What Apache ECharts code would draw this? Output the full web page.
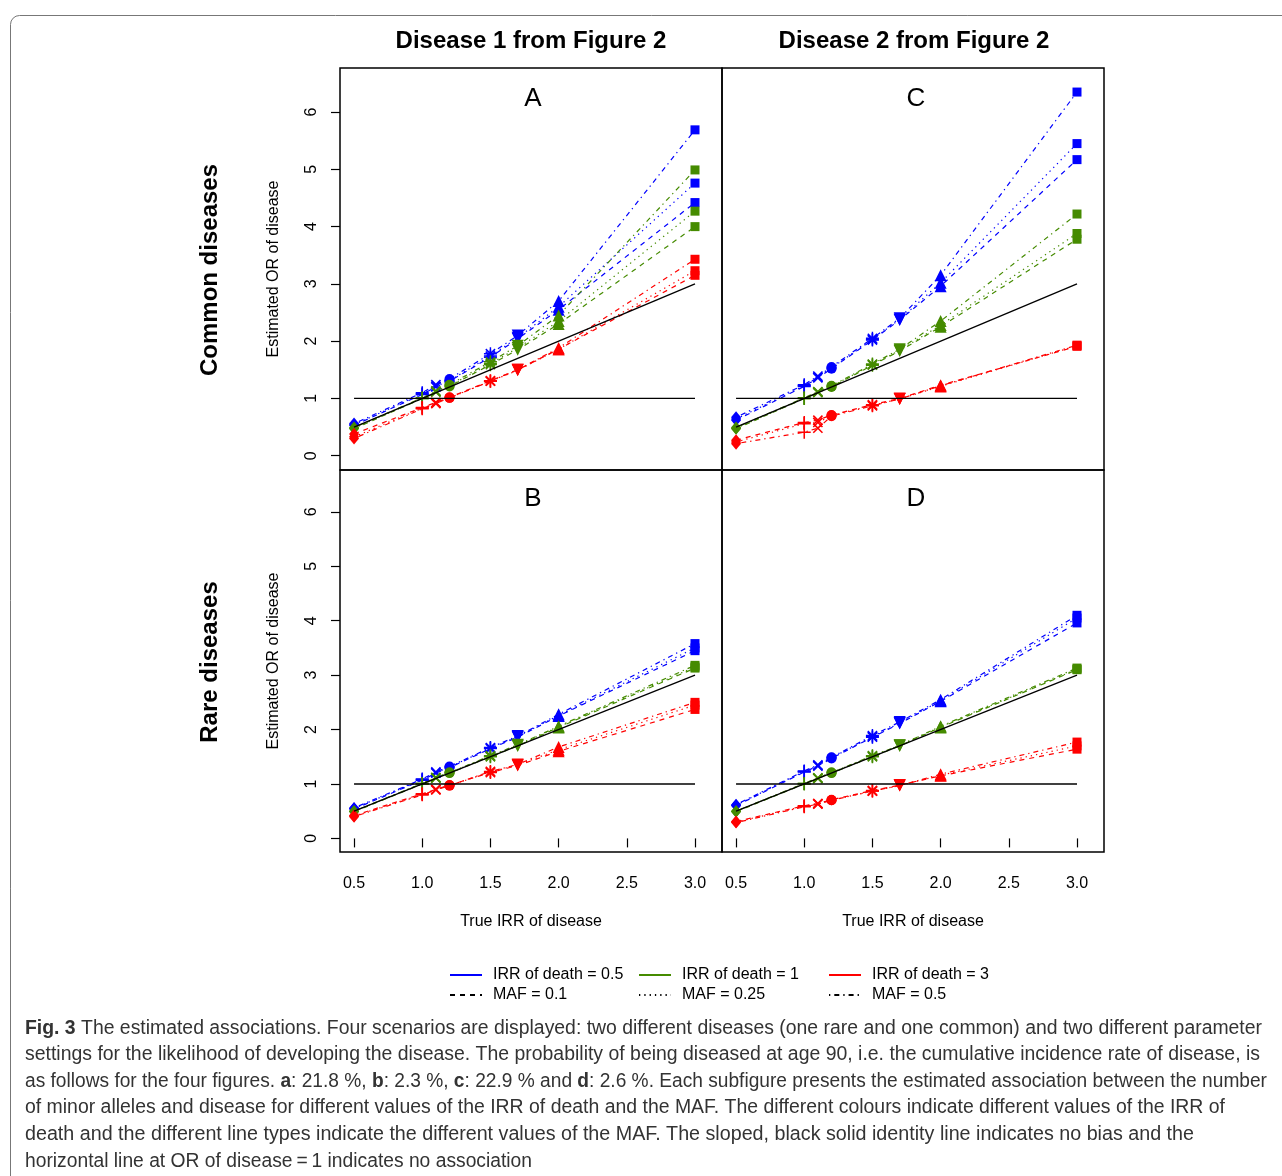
<!DOCTYPE html>
<html><head><meta charset="utf-8">
<script src="https://cdn.jsdelivr.net/npm/echarts@6/dist/echarts.min.js"></script>
<style>html,body{margin:0;padding:0;background:#fff}#c{width:1282px;height:1176px}</style>
</head><body><div id="c"></div>
<script>
// ---------- data ----------
const trueIRR = [0.5, 1.0, 1.1, 1.2, 1.5, 1.7, 2.0, 3.0];
const xTicks = [0.5, 1.0, 1.5, 2.0, 2.5, 3.0];
const yTicks = [0, 1, 2, 3, 4, 5, 6];
const irrDeathLabels = ['IRR of death = 0.5', 'IRR of death = 1', 'IRR of death = 3'];
const mafLabels = ['MAF = 0.1', 'MAF = 0.25', 'MAF = 0.5'];
const panelLetters = ['A', 'C', 'B', 'D'];
const columnTitles = ['Disease 1 from Figure 2', 'Disease 2 from Figure 2'];
const rowTitles = ['Common diseases', 'Rare diseases'];
const xAxisTitle = 'True IRR of disease';
const yAxisTitle = 'Estimated OR of disease';
const identityX = [0.5, 3.0];
const identityY = [0.5, 3.0];
const noAssocX = [0.5, 3.0];
const noAssocY = [1, 1];

// Panel A (common disease 1)
const A_d05_maf01  = [0.53, 1.07, 1.20, 1.30, 1.72, 2.04, 2.55, 4.42];
const A_d05_maf025 = [0.54, 1.08, 1.21, 1.31, 1.74, 2.06, 2.60, 4.76];
const A_d05_maf05  = [0.56, 1.10, 1.24, 1.34, 1.78, 2.10, 2.70, 5.69];
const A_d1_maf01   = [0.47, 1.00, 1.11, 1.21, 1.59, 1.85, 2.30, 4.00];
const A_d1_maf025  = [0.48, 1.00, 1.12, 1.22, 1.61, 1.88, 2.35, 4.27];
const A_d1_maf05   = [0.49, 1.01, 1.13, 1.24, 1.64, 1.92, 2.45, 4.99];
const A_d3_maf01   = [0.38, 0.84, 0.93, 1.02, 1.31, 1.50, 1.86, 3.15];
const A_d3_maf025  = [0.33, 0.83, 0.92, 1.01, 1.30, 1.49, 1.86, 3.23];
const A_d3_maf05   = [0.30, 0.82, 0.91, 1.01, 1.30, 1.50, 1.88, 3.43];
// Panel C (common disease 2)
const C_d05_maf01  = [0.62, 1.21, 1.36, 1.52, 2.02, 2.37, 2.96, 5.17];
const C_d05_maf025 = [0.64, 1.22, 1.37, 1.53, 2.03, 2.38, 3.02, 5.45];
const C_d05_maf05  = [0.67, 1.24, 1.39, 1.55, 2.05, 2.40, 3.15, 6.35];
const C_d1_maf01   = [0.47, 1.00, 1.10, 1.20, 1.58, 1.83, 2.25, 3.78];
const C_d1_maf025  = [0.48, 1.00, 1.11, 1.21, 1.59, 1.84, 2.28, 3.88];
const C_d1_maf05   = [0.49, 1.01, 1.12, 1.22, 1.60, 1.86, 2.35, 4.22];
const C_d3_maf01   = [0.27, 0.58, 0.62, 0.71, 0.89, 1.00, 1.23, 1.91];
const C_d3_maf025  = [0.24, 0.56, 0.58, 0.70, 0.88, 0.99, 1.21, 1.92];
const C_d3_maf05   = [0.21, 0.41, 0.48, 0.69, 0.87, 0.99, 1.22, 1.93];
// Panel B (rare disease 1)
const B_d05_maf01  = [0.54, 1.07, 1.20, 1.30, 1.65, 1.86, 2.25, 3.45];
const B_d05_maf025 = [0.55, 1.08, 1.21, 1.31, 1.66, 1.87, 2.26, 3.50];
const B_d05_maf05  = [0.56, 1.09, 1.22, 1.32, 1.67, 1.88, 2.28, 3.58];
const B_d1_maf01   = [0.49, 1.00, 1.11, 1.20, 1.50, 1.70, 2.04, 3.13];
const B_d1_maf025  = [0.50, 1.01, 1.11, 1.21, 1.51, 1.71, 2.05, 3.15];
const B_d1_maf05   = [0.50, 1.01, 1.12, 1.21, 1.52, 1.72, 2.06, 3.18];
const B_d3_maf01   = [0.42, 0.82, 0.90, 0.98, 1.21, 1.34, 1.60, 2.37];
const B_d3_maf025  = [0.41, 0.81, 0.90, 0.97, 1.22, 1.35, 1.63, 2.45];
const B_d3_maf05   = [0.40, 0.80, 0.89, 0.97, 1.23, 1.36, 1.68, 2.50];
// Panel D (rare disease 2)
const D_d05_maf01  = [0.60, 1.22, 1.33, 1.47, 1.86, 2.11, 2.52, 3.96];
const D_d05_maf025 = [0.61, 1.23, 1.34, 1.48, 1.87, 2.12, 2.53, 4.05];
const D_d05_maf05  = [0.62, 1.24, 1.35, 1.49, 1.89, 2.14, 2.55, 4.10];
const D_d1_maf01   = [0.49, 1.00, 1.10, 1.20, 1.50, 1.70, 2.04, 3.10];
const D_d1_maf025  = [0.50, 1.01, 1.11, 1.21, 1.51, 1.71, 2.05, 3.11];
const D_d1_maf05   = [0.50, 1.01, 1.11, 1.21, 1.52, 1.71, 2.06, 3.13];
const D_d3_maf01   = [0.31, 0.60, 0.64, 0.71, 0.88, 0.98, 1.15, 1.64];
const D_d3_maf025  = [0.30, 0.59, 0.64, 0.70, 0.87, 0.97, 1.16, 1.70];
const D_d3_maf05   = [0.29, 0.58, 0.63, 0.70, 0.87, 0.97, 1.18, 1.77];

const panelData = [
  [[A_d05_maf01, A_d05_maf025, A_d05_maf05], [A_d1_maf01, A_d1_maf025, A_d1_maf05], [A_d3_maf01, A_d3_maf025, A_d3_maf05]],
  [[C_d05_maf01, C_d05_maf025, C_d05_maf05], [C_d1_maf01, C_d1_maf025, C_d1_maf05], [C_d3_maf01, C_d3_maf025, C_d3_maf05]],
  [[B_d05_maf01, B_d05_maf025, B_d05_maf05], [B_d1_maf01, B_d1_maf025, B_d1_maf05], [B_d3_maf01, B_d3_maf025, B_d3_maf05]],
  [[D_d05_maf01, D_d05_maf025, D_d05_maf05], [D_d1_maf01, D_d1_maf025, D_d1_maf05], [D_d3_maf01, D_d3_maf025, D_d3_maf05]]
];

// ---------- style ----------
const FONT = "'Liberation Sans', Arial, Helvetica, sans-serif";
const CAPFONT = "'Liberation Sans', Arial, sans-serif";
const colors = ['#0000FF', '#458B00', '#FF0000'];
const dashes = [[5, 5], [1.3, 4], [1.3, 4, 5, 4]];
const plusPath = 'path://M-1.2,-10L1.2,-10L1.2,-1.2L10,-1.2L10,1.2L1.2,1.2L1.2,10L-1.2,10L-1.2,1.2L-10,1.2L-10,-1.2L-1.2,-1.2Z';
const starPath = 'path://M-1.1,-10L1.1,-10L1.1,10L-1.1,10Z M-10,-1.1L10,-1.1L10,1.1L-10,1.1Z M-7.9,-6.3L-6.3,-7.9L7.9,6.3L6.3,7.9Z M6.3,-7.9L7.9,-6.3L-6.3,7.9L-7.9,6.3Z';
const markers = [
  {symbol: 'diamond', size: [10, 12], rotate: 0},
  {symbol: plusPath, size: 13, rotate: 0},
  {symbol: plusPath, size: 13, rotate: 45},
  {symbol: 'circle', size: 10, rotate: 0},
  {symbol: starPath, size: 13, rotate: 0},
  {symbol: 'triangle', size: 12, rotate: 180},
  {symbol: 'triangle', size: 12, rotate: 0},
  {symbol: 'rect', size: 9, rotate: 0}
];
const grids = [
  {left: 340, top: 68, width: 382, height: 402},
  {left: 722, top: 68, width: 382, height: 402},
  {left: 340, top: 470, width: 382, height: 382},
  {left: 722, top: 470, width: 382, height: 382}
];
const XMIN = 0.397, XMAX = 3.198, YMIN = -0.25, YMAX = 6.77;

const xAxes = grids.map((g, i) => {
  const bottom = i >= 2;
  return {
    gridIndex: i, type: 'value', min: XMIN, max: XMAX,
    axisLine: {show: false}, splitLine: {show: false},
    axisTick: {show: bottom, customValues: xTicks, length: 9, lineStyle: {color: '#000', width: 1.2}},
    axisLabel: {show: bottom, customValues: xTicks, margin: 24, color: '#000', fontSize: 16, fontFamily: FONT,
      formatter: v => v.toFixed(1)},
    name: bottom ? xAxisTitle : '', nameLocation: 'middle', nameGap: 62,
    nameTextStyle: {color: '#000', fontSize: 16, fontFamily: FONT}
  };
});
const yAxes = grids.map((g, i) => {
  const left = i % 2 === 0;
  return {
    gridIndex: i, type: 'value', min: YMIN, max: YMAX,
    axisLine: {show: false}, splitLine: {show: false},
    axisTick: {show: left, customValues: yTicks, length: 9, lineStyle: {color: '#000', width: 1.2}},
    axisLabel: {show: left, customValues: yTicks, rotate: 90, margin: 20, color: '#000', fontSize: 16, fontFamily: FONT},
    name: left ? yAxisTitle : '', nameLocation: 'middle', nameGap: 58,
    nameTextStyle: {color: '#000', fontSize: 16, fontFamily: FONT}
  };
});

const series = [];
panelData.forEach((panel, p) => {
  panel.forEach((byMaf, d) => {
    byMaf.forEach((vals, m) => {
      series.push({
        type: 'line', name: 'p' + p + '_' + d + '_' + m,
        xAxisIndex: p, yAxisIndex: p,
        data: vals.map((v, k) => ({
          value: [trueIRR[k], v],
          symbol: markers[k].symbol, symbolSize: markers[k].size, symbolRotate: markers[k].rotate
        })),
        showSymbol: true,
        lineStyle: {color: colors[d], width: 1.2, type: dashes[m]},
        itemStyle: {color: colors[d]},
        z: 3
      });
    });
  });
  series.push({
    type: 'line', name: 'identity' + p, xAxisIndex: p, yAxisIndex: p,
    data: identityX.map((x, k) => [x, identityY[k]]), symbol: 'none',
    lineStyle: {color: '#000', width: 1.3, type: 'solid'}, z: 4
  });
  series.push({
    type: 'line', name: 'noassoc' + p, xAxisIndex: p, yAxisIndex: p,
    data: noAssocX.map((x, k) => [x, noAssocY[k]]), symbol: 'none',
    lineStyle: {color: '#000', width: 1.3, type: 'solid'}, z: 4
  });
});
// legend-only series
irrDeathLabels.forEach((n, d) => series.push({type: 'line', name: n, xAxisIndex: 0, yAxisIndex: 0, data: [], symbol: 'none',
  lineStyle: {color: colors[d], width: 1.3, type: 'solid'}, itemStyle: {color: colors[d]}}));
mafLabels.forEach((n, m) => series.push({type: 'line', name: n, xAxisIndex: 0, yAxisIndex: 0, data: [], symbol: 'none',
  lineStyle: {color: '#000', width: 1.3, type: dashes[m]}, itemStyle: {color: '#000'}}));

const legendCols = [449, 638, 828];
const legendRows = [967, 987];
const legends = [];
[irrDeathLabels, mafLabels].forEach((labels, r) => labels.forEach((n, c) => legends.push({
  data: [n], left: legendCols[c], top: legendRows[r], padding: 0, itemWidth: 32, itemHeight: 12, selectedMode: false,
  itemStyle: {opacity: 0, borderWidth: 0},
  textStyle: {color: '#000', fontSize: 16, fontFamily: FONT, padding: [0, 0, 0, 6]}
})));

const captionLines = [
  '{b|Fig. 3} The estimated associations. Four scenarios are displayed: two different diseases (one rare and one common) and two different parameter',
  'settings for the likelihood of developing the disease. The probability of being diseased at age 90, i.e. the cumulative incidence rate of disease, is',
  'as follows for the four figures. {b|a}: 21.8 %, {b|b}: 2.3 %, {b|c}: 22.9 % and {b|d}: 2.6 %. Each subfigure presents the estimated association between the number',
  'of minor alleles and disease for different values of the IRR of death and the MAF. The different colours indicate different values of the IRR of',
  'death and the different line types indicate the different values of the MAF. The sloped, black solid identity line indicates no bias and the',
  'horizontal line at OR of disease\u2009=\u20091 indicates no association'
];
// right edge of each caption line in the original (condensed face): used to squeeze each line horizontally
const captionRightEdges = [1262, 1260, 1267, 1225, 1194, 532];
const CAP_X = 25;
const measureCtx = document.createElement('canvas').getContext('2d');
function captionWidth(line) {
  let w = 0;
  line.split(/(\{b\|[^}]*\})/).forEach(part => {
    const m = part.match(/^\{b\|([^}]*)\}$/);
    measureCtx.font = (m ? 'bold ' : '') + "20px 'Liberation Sans', Arial, sans-serif";
    w += measureCtx.measureText(m ? m[1] : part).width;
  });
  return w;
}

const graphics = [
  {type: 'rect', shape: {x: 10.5, y: 15.5, width: 1300, height: 1200, r: 9}, style: {fill: 'none', stroke: '#777', lineWidth: 1}, z: -1},
];
columnTitles.forEach((t, c) => graphics.push({type: 'text', x: [531, 914][c], y: 41,
  style: {text: t, fontSize: 24, fontWeight: 'bold', fontFamily: FONT, fill: '#000', align: 'center', verticalAlign: 'middle'}}));
rowTitles.forEach((t, r) => graphics.push({type: 'text', x: 210, y: [270, 662][r], rotation: Math.PI / 2,
  style: {text: t, fontSize: 24, fontWeight: 'bold', fontFamily: FONT, fill: '#000', align: 'center', verticalAlign: 'middle'}}));
panelLetters.forEach((t, p) => graphics.push({type: 'text', x: [533, 916, 533, 916][p], y: [99, 99, 499, 499][p],
  style: {text: t, fontSize: 26, fontFamily: FONT, fill: '#000', align: 'center', verticalAlign: 'middle'}}));
captionLines.forEach((t, i) => graphics.push({type: 'text', x: CAP_X, y: 1028 + i * 26.6,
  scaleX: (captionRightEdges[i] - CAP_X) / captionWidth(t), scaleY: 1,
  style: {text: t, fontSize: 20, fontFamily: CAPFONT, fill: '#333', align: 'left', verticalAlign: 'middle',
    rich: {b: {fontSize: 20, fontFamily: CAPFONT, fontWeight: 'bold', fill: '#333'}}}}));

const chart = echarts.init(document.getElementById('c'), null, {renderer: 'canvas'});
chart.setOption({
  animation: false,
  backgroundColor: '#fff',
  grid: grids.map(g => Object.assign({show: true, borderColor: '#000', borderWidth: 1.5, containLabel: false}, g)),
  xAxis: xAxes,
  yAxis: yAxes,
  legend: legends,
  series: series,
  graphic: graphics
});
</script>
</body></html>
